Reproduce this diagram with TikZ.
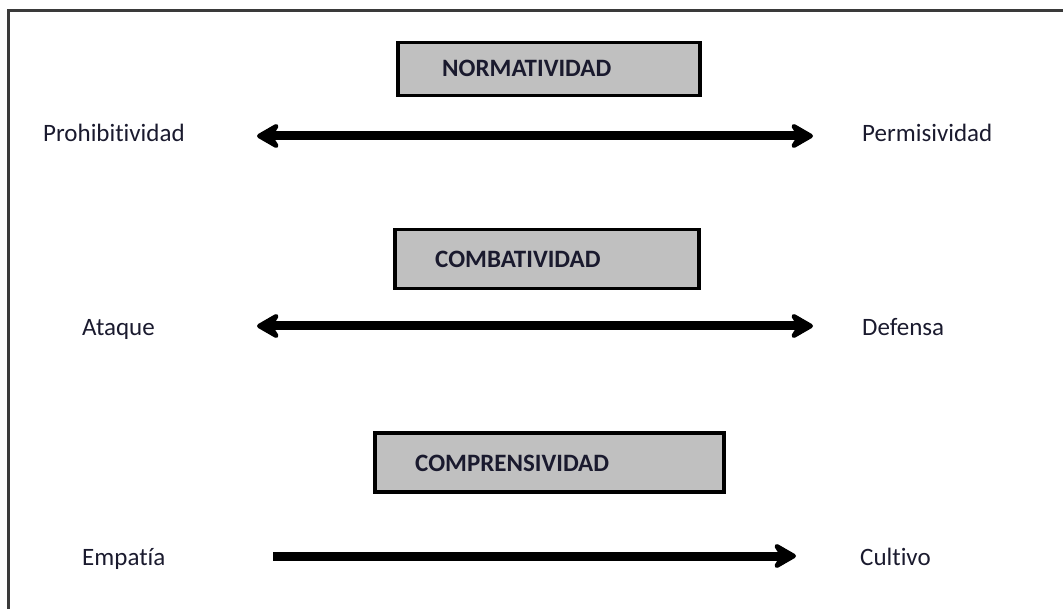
\documentclass[tikz,border=0pt]{standalone}
\usepackage{fontspec}
\setmainfont{Carlito}[Ligatures=NoCommon]
\definecolor{framec}{HTML}{3A3A3A}
\definecolor{boxfill}{HTML}{C0C0C0}
\definecolor{txtc}{HTML}{1A1A2E}
\usetikzlibrary{arrows.meta,positioning}

\begin{document}
\begin{tikzpicture}[x=1pt, y=-1pt,
  axisbox/.style={rectangle, draw=black, line width=3.5pt, fill=boxfill, anchor=north west, inner sep=0pt},
  boxtxt/.style={font={\fontsize{25}{30}\selectfont\bfseries}, text=txtc, anchor=base west, inner sep=0pt},
  poletxt/.style={font={\fontsize{25}{30}\selectfont}, text=txtc, anchor=base west, inner sep=0pt},
  axisline/.style={line width=9pt, -{Stealth[length=28pt, width=32pt, inset=10pt, round]}},
  bothline/.style={line width=9pt, {Stealth[length=28pt, width=32pt, inset=10pt, round]}-{Stealth[length=28pt, width=32pt, inset=10pt, round]}},
]
\useasboundingbox (0,0) rectangle (1063,609);
% frame
\draw[framec, line width=3pt] (8,609) -- (8,11) -- (1063,11);
% normatividad
\node[axisbox, minimum width=302pt, minimum height=53pt] (normbox) at (396,41) {};
\node[boxtxt] (normtxt) at (442,77) {NORMATIVIDAD};
\node[poletxt] (prohib) at (43,142) {Prohibitividad};
\node[poletxt] (permis) at (862,142) {Permisividad};
\coordinate (norml) at (257,136);
\coordinate (normr) at (813,136);
\draw[bothline] (norml) -- (normr);
% combatividad
\node[axisbox, minimum width=304pt, minimum height=59pt] (combbox) at (393,228) {};
\node[boxtxt] (combtxt) at (435,268) {COMBATIVIDAD};
\node[poletxt] (ataque) at (82,336) {Ataque};
\node[poletxt] (defensa) at (862,336) {Defensa};
\coordinate (combl) at (257,326);
\coordinate (combr) at (813,326);
\draw[bothline] (combl) -- (combr);
% comprensividad
\node[axisbox, minimum width=349pt, minimum height=59pt] (compbox) at (373,431) {};
\node[boxtxt] (comptxt) at (415,471) {COMPRENSIVIDAD};
\node[poletxt] (empatia) at (82,565) {Empatía};
\node[poletxt] (cultivo) at (860,565) {Cultivo};
\coordinate (compl) at (273,556);
\coordinate (compr) at (796,556);
\draw[axisline] (compl) -- (compr);
\end{tikzpicture}
\end{document}
